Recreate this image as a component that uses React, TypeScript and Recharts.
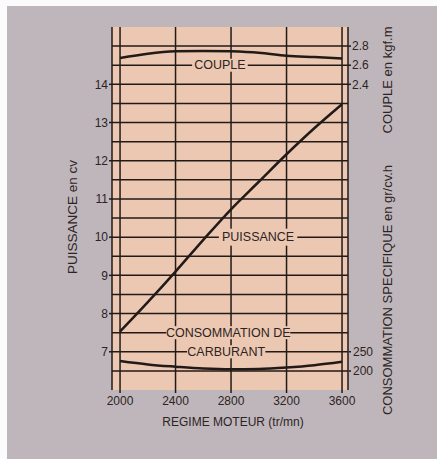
import React from "react";
import {
  LineChart,
  Line,
  XAxis,
  YAxis,
  CartesianGrid,
  ReferenceArea,
  ReferenceDot,
  ReferenceLine,
} from "recharts";

// valeurs
const regime = [2000, 2200, 2400, 2600, 2800, 3000, 3200, 3400, 3600];
const puissance = [7.53, 8.3, 9.1, 9.93, 10.73, 11.45, 12.17, 12.85, 13.48];
const couple = [2.675, 2.72, 2.745, 2.75, 2.745, 2.73, 2.7, 2.685, 2.67];
const consommation = [226, 217, 211, 206, 204, 205, 209, 215, 224];

const regimeTicks = [2000, 2400, 2800, 3200, 3600];
const puissanceTicks = [7, 8, 9, 10, 11, 12, 13, 14];
const gridTicks = [6.5, 7, 7.5, 8, 8.5, 9, 9.5, 10, 10.5, 11, 11.5, 12, 12.5, 13, 13.5, 14, 14.5, 15];
const coupleTicks = [2.4, 2.6, 2.8];
const consoTicks = [200, 250];

const annotations = [
  { text: "COUPLE", x: 2720, y: 14.5 },
  { text: "PUISSANCE", x: 2995, y: 10 },
  { text: "CONSOMMATION DE", x: 2780, y: 7.5 },
  { text: "CARBURANT", x: 2765, y: 7 },
];

const data = regime.map((r, i) => ({
  regime: r,
  puissance: puissance[i],
  couple: couple[i],
  conso: consommation[i],
}));

const INK = "#221a17";
const TXT = "#2d2422";
const PAPER = "#ecc8b3";
const FONT = "'Liberation Sans', Arial, sans-serif";

const tickStyle = { fontSize: 12, fill: TXT, fontFamily: FONT };

const tagShape = (text: string, h: number) => (props: any) => {
  const { cx, cy } = props;
  const w = text.length * 7.6 + 10;
  return (
    <g>
      <rect x={cx - w / 2} y={cy - h / 2} width={w} height={h} fill={PAPER} />
      <text
        x={cx}
        y={cy}
        textAnchor="middle"
        dominantBaseline="central"
        style={{ fontSize: 12.5, fill: TXT, fontFamily: FONT }}
      >
        {text}
      </text>
    </g>
  );
};

// titres d'axes, posés en HTML
function Title(props: { text: string; x: number; y: number; size: number; rotate?: boolean }) {
  return (
    <div
      style={{
        position: "absolute",
        left: props.x,
        top: props.y,
        transform: `translate(-50%, -50%)${props.rotate ? " rotate(-90deg)" : ""}`,
        whiteSpace: "nowrap",
        fontFamily: FONT,
        fontSize: props.size,
        color: TXT,
        lineHeight: 1,
      }}
    >
      {props.text}
    </div>
  );
}

export default function App() {
  return (
    <div style={{ position: "fixed", left: 0, top: 0, width: 437, height: 459, background: "#fbfbfb", overflow: "hidden" }}>
      <div style={{ position: "absolute", left: 7, top: 6, right: 0, bottom: 0, background: "#bfb6bc" }} />
      <div style={{ position: "absolute", left: 0, top: 0 }}>
        <LineChart width={437} height={459} data={data} margin={{ top: 27, right: 0, bottom: 0, left: 0 }}>
          <CartesianGrid
            yAxisId="p"
            horizontal={false}
            stroke={INK}
            strokeWidth={1.5}
            fill={PAPER}
            fillOpacity={1}
          />
          <XAxis
            dataKey="regime"
            type="number"
            domain={[1942, 3643]}
            ticks={regimeTicks}
            interval={0}
            height={69}
            tick={tickStyle}
            tickSize={3}
            tickMargin={3}
            tickLine={{ stroke: INK, strokeWidth: 1.5 }}
            axisLine={false}
          />
          <YAxis
            yAxisId="p"
            orientation="left"
            type="number"
            domain={[6, 15.5]}
            ticks={puissanceTicks}
            interval={0}
            width={112}
            tick={tickStyle}
            tickSize={3}
            tickMargin={1}
            tickLine={{ stroke: INK, strokeWidth: 1.5 }}
            axisLine={false}
          />
          <YAxis
            yAxisId="c"
            orientation="right"
            type="number"
            domain={[-0.8, 3.0]}
            ticks={coupleTicks}
            interval={0}
            width={1}
            tick={tickStyle}
            tickFormatter={(v: number) => v.toFixed(1)}
            tickSize={3}
            tickMargin={1}
            tickLine={{ stroke: INK, strokeWidth: 1.5 }}
            axisLine={false}
          />
          <YAxis
            yAxisId="s"
            orientation="right"
            type="number"
            domain={[150, 1100]}
            ticks={consoTicks}
            interval={0}
            width={88}
            tick={tickStyle}
            tickSize={2}
            tickMargin={2}
            tickLine={{ stroke: INK, strokeWidth: 1.5 }}
            axisLine={false}
          />

          {gridTicks.map((t) => (
            <ReferenceLine key={t} yAxisId="p" y={t} stroke={INK} strokeWidth={1.5} />
          ))}

          <ReferenceArea yAxisId="p" fill="none" stroke={INK} strokeWidth={2} />

          {annotations.map((a) => (
            <ReferenceDot
              key={a.text}
              yAxisId="p"
              x={a.x}
              y={a.y}
              r={0}
              shape={tagShape(a.text, a.text === "PUISSANCE" ? 17 : 13)}
            />
          ))}

          <Line yAxisId="p" dataKey="puissance" type="monotone" stroke={INK} strokeWidth={2.5} dot={false} isAnimationActive={false} />
          <Line yAxisId="c" dataKey="couple" type="monotone" stroke={INK} strokeWidth={2.5} dot={false} isAnimationActive={false} />
          <Line yAxisId="s" dataKey="conso" type="monotone" stroke={INK} strokeWidth={2.5} dot={false} isAnimationActive={false} />
        </LineChart>
      </div>
      <Title text="PUISSANCE en cv" x={73} y={217} size={13.5} rotate />
      <Title text="COUPLE en kgf.m" x={387} y={80} size={13} rotate />
      <Title text="CONSOMMATION SPECIFIQUE en gr/cv.h" x={387} y={290} size={13} rotate />
      <Title text="REGIME MOTEUR (tr/mn)" x={233} y={422} size={12} />
    </div>
  );
}
